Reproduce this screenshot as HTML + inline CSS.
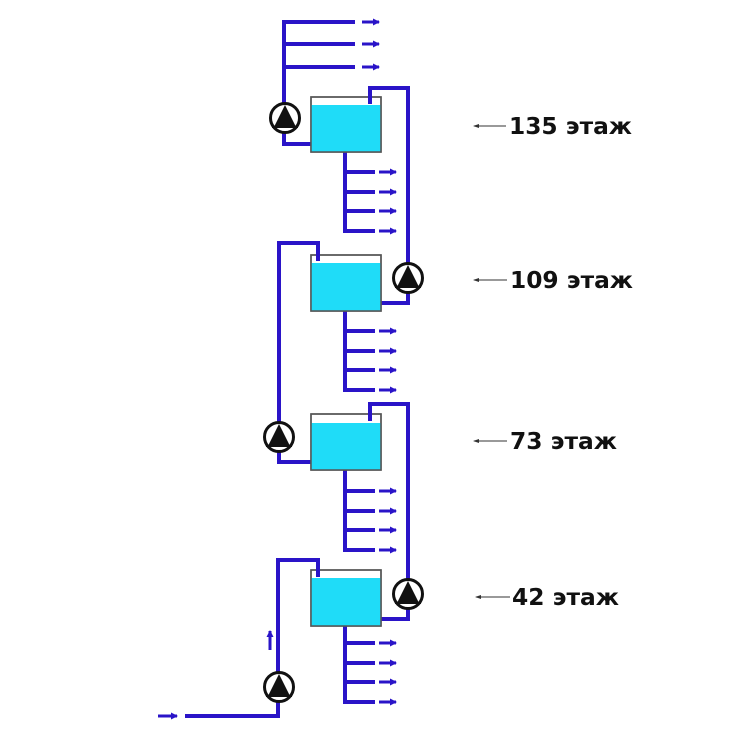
<!DOCTYPE html>
<html><head><meta charset="utf-8"><style>
html,body{margin:0;padding:0;background:#fff;width:756px;height:743px;overflow:hidden}
svg{display:block}
text{font-family:"DejaVu Sans","Liberation Sans",sans-serif;font-weight:bold;font-size:23px;fill:#111}
</style></head><body>
<svg width="756" height="743" viewBox="0 0 756 743" xmlns="http://www.w3.org/2000/svg">
<defs>
<marker id="ah" markerWidth="7" markerHeight="7" refX="6" refY="3.5" orient="auto" markerUnits="userSpaceOnUse">
<path d="M0,0 L7,3.5 L0,7 z" fill="#2a14c8"/></marker>
<marker id="lh" markerWidth="6" markerHeight="4" refX="1" refY="2" orient="auto" markerUnits="userSpaceOnUse">
<path d="M6,0 L0,2 L6,4 z" fill="#333"/></marker>
<g id="pump">
<circle r="14.5" fill="#fff" stroke="#111" stroke-width="3"/>
<path d="M0,-13 L-11,9 L11,9 z" fill="#111"/>
<path d="M-11,9 L11,9 L13,6 L13,10 L-13,10 L-13,6z" fill="#111"/>
</g>
</defs>
<g fill="none" stroke="#2a14c8" stroke-width="4">
<polyline points="355,22 284,22 284,144 311,144"/>
<line x1="284" y1="44" x2="355" y2="44"/>
<line x1="284" y1="67" x2="355" y2="67"/>
<polyline points="370,104 370,88 408,88 408,303 381,303"/>
<polyline points="345,152 345,231 375,231"/>
<line x1="345" y1="172" x2="375" y2="172"/>
<line x1="345" y1="192" x2="375" y2="192"/>
<line x1="345" y1="211" x2="375" y2="211"/>
<polyline points="318,262 318,243 279,243 279,462 311,462"/>
<polyline points="345,311 345,390 375,390"/>
<line x1="345" y1="331" x2="375" y2="331"/>
<line x1="345" y1="351" x2="375" y2="351"/>
<line x1="345" y1="370" x2="375" y2="370"/>
<polyline points="370,421 370,404 408,404 408,619 381,619"/>
<polyline points="345,470 345,550 375,550"/>
<line x1="345" y1="491" x2="375" y2="491"/>
<line x1="345" y1="511" x2="375" y2="511"/>
<line x1="345" y1="530" x2="375" y2="530"/>
<polyline points="318,578 318,560 278,560 278,716 185,716"/>
<polyline points="345,626 345,702 375,702"/>
<line x1="345" y1="643" x2="375" y2="643"/>
<line x1="345" y1="663" x2="375" y2="663"/>
<line x1="345" y1="682" x2="375" y2="682"/>
</g>
<g stroke="#2a14c8" stroke-width="3" marker-end="url(#ah)">
<line x1="362" y1="22" x2="379" y2="22"/>
<line x1="362" y1="44" x2="379" y2="44"/>
<line x1="362" y1="67" x2="379" y2="67"/>
<line x1="379" y1="172" x2="396" y2="172"/>
<line x1="379" y1="192" x2="396" y2="192"/>
<line x1="379" y1="211" x2="396" y2="211"/>
<line x1="379" y1="231" x2="396" y2="231"/>
<line x1="379" y1="331" x2="396" y2="331"/>
<line x1="379" y1="351" x2="396" y2="351"/>
<line x1="379" y1="370" x2="396" y2="370"/>
<line x1="379" y1="390" x2="396" y2="390"/>
<line x1="379" y1="491" x2="396" y2="491"/>
<line x1="379" y1="511" x2="396" y2="511"/>
<line x1="379" y1="530" x2="396" y2="530"/>
<line x1="379" y1="550" x2="396" y2="550"/>
<line x1="379" y1="643" x2="396" y2="643"/>
<line x1="379" y1="663" x2="396" y2="663"/>
<line x1="379" y1="682" x2="396" y2="682"/>
<line x1="379" y1="702" x2="396" y2="702"/>
<line x1="158" y1="716" x2="177" y2="716"/>
<line x1="270" y1="650" x2="270" y2="631"/>
</g>
<g stroke="#555" stroke-width="1.5">
<rect x="311" y="97" width="70" height="55" fill="#fff"/>
<rect x="311.5" y="105" width="69" height="46.5" fill="#1fdcf8" stroke="none"/>
<rect x="311" y="97" width="70" height="55" fill="none"/>
<rect x="311" y="255" width="70" height="56" fill="#fff"/>
<rect x="311.5" y="263" width="69" height="47.5" fill="#1fdcf8" stroke="none"/>
<rect x="311" y="255" width="70" height="56" fill="none"/>
<rect x="311" y="414" width="70" height="56" fill="#fff"/>
<rect x="311.5" y="423" width="69" height="46.5" fill="#1fdcf8" stroke="none"/>
<rect x="311" y="414" width="70" height="56" fill="none"/>
<rect x="311" y="570" width="70" height="56" fill="#fff"/>
<rect x="311.5" y="578" width="69" height="47.5" fill="#1fdcf8" stroke="none"/>
<rect x="311" y="570" width="70" height="56" fill="none"/>
</g>
<g stroke="#2a14c8" stroke-width="4">
<line x1="370" y1="88" x2="370" y2="104"/>
<line x1="318" y1="243" x2="318" y2="261"/>
<line x1="370" y1="404" x2="370" y2="421"/>
<line x1="318" y1="560" x2="318" y2="577"/>
</g>
<use href="#pump" x="285" y="118"/>
<use href="#pump" x="408" y="278"/>
<use href="#pump" x="279" y="437"/>
<use href="#pump" x="408" y="594"/>
<use href="#pump" x="279" y="687"/>
<g stroke="#333" stroke-width="1" marker-start="url(#lh)">
<line x1="474" y1="126" x2="506" y2="126"/>
<line x1="474" y1="280" x2="507" y2="280"/>
<line x1="474" y1="441" x2="507" y2="441"/>
<line x1="476" y1="597" x2="510" y2="597"/>
</g>
<text x="509" y="134" textLength="123" lengthAdjust="spacingAndGlyphs">135 этаж</text>
<text x="510" y="288" textLength="123" lengthAdjust="spacingAndGlyphs">109 этаж</text>
<text x="510" y="449" textLength="107" lengthAdjust="spacingAndGlyphs">73 этаж</text>
<text x="512" y="605" textLength="107" lengthAdjust="spacingAndGlyphs">42 этаж</text>
</svg>
</body></html>
